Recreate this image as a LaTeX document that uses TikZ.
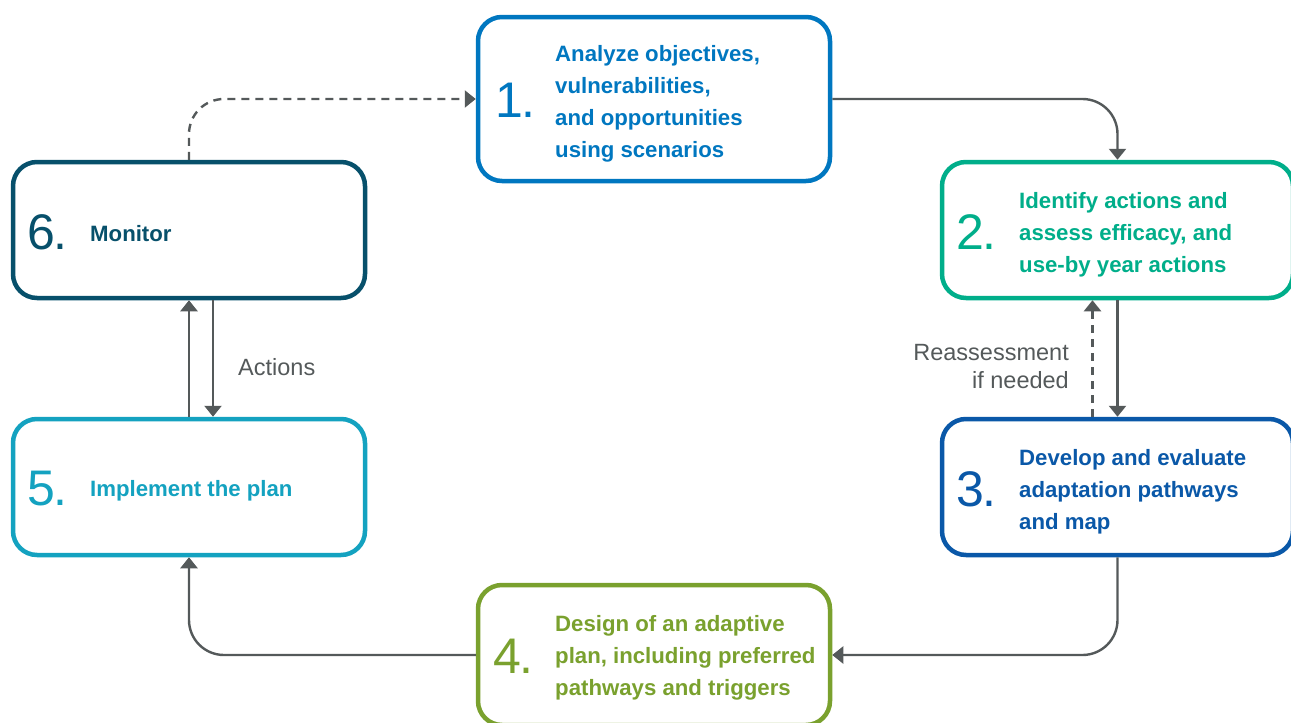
\documentclass[tikz,border=0pt]{standalone}
\usepackage{fontspec}
\setmainfont{Liberation Sans}
\usetikzlibrary{arrows.meta}
\definecolor{cA}{HTML}{0077C0}
\definecolor{cB}{HTML}{00AE8A}
\definecolor{cC}{HTML}{0A58A8}
\definecolor{cD}{HTML}{7AA12E}
\definecolor{cE}{HTML}{14A2C0}
\definecolor{cF}{HTML}{07506B}
\definecolor{gr}{HTML}{54595A}
\tikzset{
  stagebox/.style={draw=#1, line width=4.5pt, rounded corners=24pt, fill=white, inner sep=0pt},
  num/.style={text=#1, anchor=west, inner sep=0pt, font=\fontsize{50}{50}\selectfont},
  txt/.style={text=#1, anchor=west, inner sep=0pt, align=left, font=\bfseries\fontsize{22.2}{32}\selectfont},
  conn/.style={draw=gr, line width=2.4pt, -{Triangle[width=17pt,length=11pt]}},
  dconn/.style={conn, dash pattern=on 8pt off 6pt},
  lbl/.style={text=gr, inner sep=0pt, font=\fontsize{23.5}{28}\selectfont}
}
\begin{document}
\begin{tikzpicture}[x=1pt,y=-1pt]
\useasboundingbox (0,0) rectangle (1291,723);
% boxes
\node[stagebox=cA, minimum width=352pt, minimum height=164pt] (b1) at (654,99) {};
\node[stagebox=cB, minimum width=351pt, minimum height=136pt] (b2) at (1117.5,230) {};
\node[stagebox=cC, minimum width=351pt, minimum height=136pt] (b3) at (1117.5,487) {};
\node[stagebox=cD, minimum width=352pt, minimum height=140pt] (b4) at (654,655) {};
\node[stagebox=cE, minimum width=352pt, minimum height=136pt] (b5) at (189,487) {};
\node[stagebox=cF, minimum width=352pt, minimum height=136pt] (b6) at (189,230) {};
% numbers
\node[num=cA] (n1) at (495,100) {1\kern-2pt.};
\node[num=cB] (n2) at (956,232) {2\kern-2pt.};
\node[num=cC] (n3) at (956,489) {3\kern-2pt.};
\node[num=cD] (n4) at (493,656) {4\kern-2pt.};
\node[num=cE] (n5) at (27,489) {5\kern-2pt.};
\node[num=cF] (n6) at (27,232) {6\kern-2pt.};
% texts
\node[txt=cA] (t1) at (555,104) {Analyze objectives,\\vulnerabilities,\\and opportunities\\using scenarios};
\node[txt=cB] (t2) at (1019,235) {Identify actions and\\assess efficacy, and\\use-by year actions};
\node[txt=cC] (t3) at (1019,492) {Develop and evaluate\\adaptation pathways\\and map};
\node[txt=cD] (t4) at (555,658) {Design of an adaptive\\plan, including preferred\\pathways and triggers};
\node[txt=cE] (t5) at (90,491) {Implement the plan};
\node[txt=cF] (t6) at (90,234) {Monitor};
% connectors
\draw[conn, rounded corners=35pt] (b1.east) -| (b2.north);
\draw[conn] (b2.south) -- (b3.north);
\draw[dconn] ([xshift=-25pt]b3.north) -- ([xshift=-25pt]b2.south);
\draw[conn, rounded corners=35pt] (b3.south) |- (b4.east);
\draw[conn, rounded corners=35pt] (b4.west) -| (b5.south);
\draw[conn] (b5.north) -- (b6.south);
\draw[conn] ([xshift=24pt]b6.south) -- ([xshift=24pt]b5.north);
\draw[dconn, rounded corners=35pt] (b6.north) |- (b1.west);
% labels
\node[lbl, anchor=east, align=right] (l1) at (1069,367) {Reassessment\\if needed};
\node[lbl, anchor=west] (l2) at (238,367) {Actions};
\end{tikzpicture}
\end{document}
